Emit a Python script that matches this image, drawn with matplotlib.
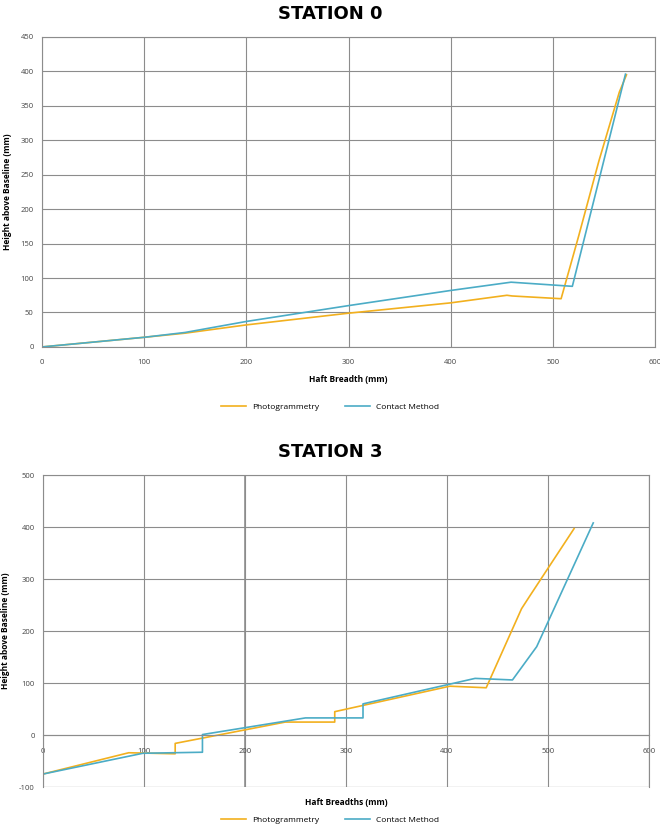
import matplotlib
matplotlib.use("Agg")
import matplotlib.pyplot as plt

# station 0 data
s0_photo_x = [0, 100, 140, 200, 300, 400, 455, 460, 508, 525, 545, 565, 572]
s0_photo_y = [0, 14, 20, 32, 49, 64, 75, 74, 70, 160, 270, 370, 395]
s0_contact_x = [0, 100, 140, 200, 300, 400, 459, 519, 571]
s0_contact_y = [0, 14, 21, 37, 60, 82, 94, 88, 396]

# station 3 data
s3_photo_x = [0, 85, 131, 131, 240, 289, 289, 403, 439, 474, 482, 526]
s3_photo_y = [-75, -34, -36, -16, 25, 25, 45, 94, 91, 243, 267, 397]
s3_contact_x = [0, 99, 158, 158, 260, 317, 317, 428, 465, 489, 545]
s3_contact_y = [-75, -35, -33, 1, 33, 33, 60, 109, 106, 170, 408]

ORANGE = "#F2B01E"
BLUE = "#4BACC6"
GRID = "#8c8c8c"
TICKC = "#444444"

plt.rcParams['font.family'] = ['Open Sans', 'DejaVu Sans']
plt.rcParams['axes.unicode_minus'] = False

fig = plt.figure(figsize=(6.6, 8.32), dpi=100)


def style_axes(ax):
  ax.grid(True, color=GRID, linewidth=0.8)
  ax.set_axisbelow(True)
  for sp in ax.spines.values():
    sp.set_color(GRID)
    sp.set_linewidth(0.8)
  ax.tick_params(length=0, labelsize=5.5, colors=TICKC, pad=6)


# ---- STATION 0 ----
ax1 = fig.add_axes([0.0636, 0.583, 0.929, 0.3726])
ax1.plot(s0_photo_x, s0_photo_y, color=ORANGE, linewidth=1.2, label="Photogrammetry")
ax1.plot(s0_contact_x, s0_contact_y, color=BLUE, linewidth=1.2, label="Contact Method")
ax1.set_xlim(0, 600)
ax1.set_ylim(0, 450)
ax1.set_xticks(range(0, 601, 100))
ax1.set_yticks(range(0, 451, 50))
style_axes(ax1)
ax1.tick_params(axis='x', pad=9)
ax1.set_xlabel("Haft Breadth (mm)", fontsize=6, fontweight='bold', labelpad=6)
ax1.set_ylabel("Height above Baseline (mm)", fontsize=6, fontweight='bold', labelpad=6)
fig.text(0.5, 0.983, "STATION 0", ha='center', va='center', fontsize=13,
         fontweight='heavy', family='DejaVu Sans')
fig.legend(*ax1.get_legend_handles_labels(), loc='center', bbox_to_anchor=(0.5, 0.511),
           ncol=2, frameon=False, fontsize=6, handlelength=3, columnspacing=3)

# ---- STATION 3 ----
ax2 = fig.add_axes([0.065, 0.054, 0.918, 0.375])
ax2.plot(s3_photo_x, s3_photo_y, color=ORANGE, linewidth=1.2, label="Photogrammetry")
ax2.plot(s3_contact_x, s3_contact_y, color=BLUE, linewidth=1.2, label="Contact Method")
ax2.set_xlim(0, 600)
ax2.set_ylim(-100, 500)
ax2.set_xticks(range(0, 601, 100))
ax2.set_yticks(range(-100, 501, 100))
style_axes(ax2)
ax2.spines['bottom'].set_position(('data', 0))
ax2.spines['bottom'].set_color(GRID)
ax2.axhline(-100, color=GRID, linewidth=0.8)
ax2.axvline(600, color=GRID, linewidth=0.8)
ax2.axvline(200, color="#9a9a9a", linewidth=1.3, zorder=0.5)
ax2.tick_params(axis='x', pad=9)
ax2.set_xlabel("Haft Breadths (mm)", fontsize=6, fontweight='bold')
ax2.xaxis.set_label_coords(0.5, -0.035)
ax2.set_ylabel("Height above Baseline (mm)", fontsize=6, fontweight='bold', labelpad=6)
fig.text(0.5, 0.457, "STATION 3", ha='center', va='center', fontsize=13,
         fontweight='heavy', family='DejaVu Sans')
fig.legend(*ax2.get_legend_handles_labels(), loc='center', bbox_to_anchor=(0.5, 0.014),
           ncol=2, frameon=False, fontsize=6, handlelength=3, columnspacing=3)

plt.savefig("out.png", dpi=100)
